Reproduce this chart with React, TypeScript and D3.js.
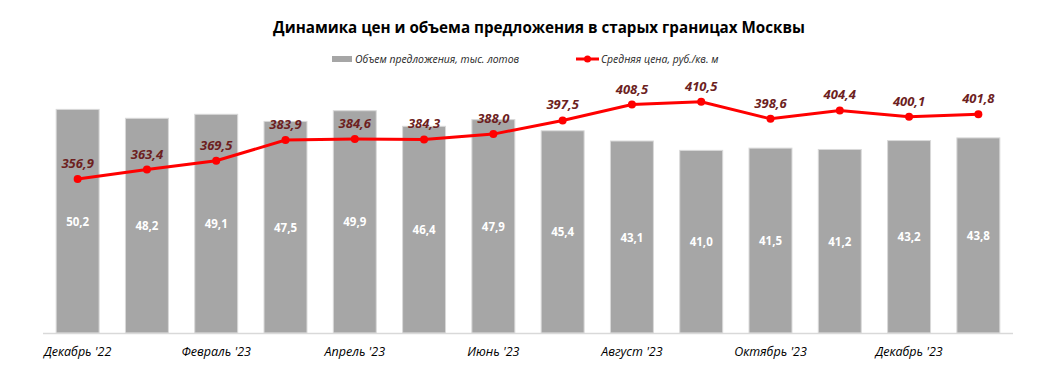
import React from "react";
import * as d3 from "d3";

const categories = [
  "Декабрь '22", "Январь '23", "Февраль '23", "Март '23", "Апрель '23", "Май '23", "Июнь '23",
  "Июль '23", "Август '23", "Сентябрь '23", "Октябрь '23", "Ноябрь '23", "Декабрь '23", "Январь '24",
];
const volume = [50.2, 48.2, 49.1, 47.5, 49.9, 46.4, 47.9, 45.4, 43.1, 41.0, 41.5, 41.2, 43.2, 43.8];
const price = [356.9, 363.4, 369.5, 383.9, 384.6, 384.3, 388.0, 397.5, 408.5, 410.5, 398.6, 404.4, 400.1, 401.8];
const title = "Динамика цен и объема предложения в старых границах Москвы";
const volumeName = "Объем предложения, тыс. лотов";
const priceName = "Средняя цена, руб./кв. м";

const W = 1058;
const H = 380;
const FONT = "'Open Sans', 'Noto Sans', sans-serif";
const fmt = (v: number) => v.toFixed(1).replace(".", ",");

export default function App() {
  const left = 43, right = 1013, base = 333, top = 88;
  const x = d3.scaleBand<string>().domain(categories).range([left, right]).paddingInner(0.38).paddingOuter(0.19);
  const yBar = d3.scaleLinear().domain([0, 55]).range([base, top]);
  const yLine = d3.scaleLinear().domain([250, 420]).range([base, top]);
  const cx = (i: number) => (x(categories[i]) as number) + x.bandwidth() / 2;
  const line = d3.line<number>().x((_, i) => cx(i)).y((d) => yLine(d));

  return (
    <svg width={W} height={H} style={{ position: "absolute", left: 0, top: 0, background: "#fff" }} fontFamily={FONT}>
      <text x={539} y={33} textAnchor="middle" fontSize={15.2} fontWeight={700} fill="#000">{title}</text>
      {/* legend */}
      <rect x={332} y={56} width={20} height={6} fill="#a6a6a6" />
      <text x={355} y={63} fontSize={10.4} fontStyle="italic" fill="#262626">{volumeName}</text>
      <line x1={576} x2={599} y1={59} y2={59} stroke="#ff0000" strokeWidth={3} />
      <circle cx={587.5} cy={59} r={3.5} fill="#ff0000" />
      <text x={601} y={63} fontSize={10.4} fontStyle="italic" fill="#262626">{priceName}</text>

      {volume.map((v, i) => (
        <rect key={"b" + i} x={x(categories[i])} y={yBar(v)} width={x.bandwidth()} height={base - yBar(v)}
          fill="#a6a6a6" stroke="#d9d9d9" strokeWidth={1} />
      ))}
      <line x1={left} x2={right} y1={base + 0.5} y2={base + 0.5} stroke="#d9d9d9" strokeWidth={1.5} />
      {volume.map((v, i) => (
        <text key={"bl" + i} x={cx(i)} y={yBar(v / 2) + 4.5} textAnchor="middle" fontSize={11.5}
          fontWeight={700} fill="#fff">{fmt(v)}</text>
      ))}
      <path d={line(price) || ""} fill="none" stroke="#ff0000" strokeWidth={3} />
      {price.map((p, i) => (
        <circle key={"m" + i} cx={cx(i)} cy={yLine(p)} r={4} fill="#ff0000" />
      ))}
      {price.map((p, i) => (
        <text key={"pl" + i} x={cx(i)} y={yLine(p) - 11} textAnchor="middle" fontSize={13} fontWeight={700}
          fontStyle="italic" fill="#6d1f1f">{fmt(p)}</text>
      ))}
      {categories.map((c, i) => i % 2 === 0 ? (
        <text key={"xl" + i} x={cx(i)} y={356} textAnchor="middle" fontSize={12.5} fontStyle="italic" fill="#000">{c}</text>
      ) : null)}
    </svg>
  );
}
